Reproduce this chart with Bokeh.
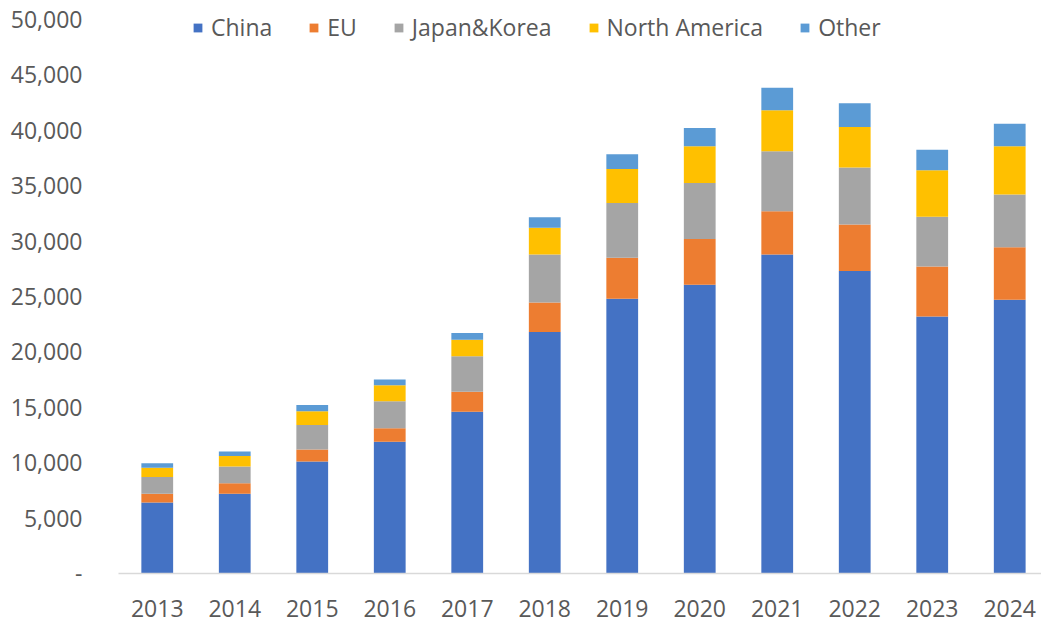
from bokeh.plotting import figure
from bokeh.models import ColumnDataSource, Legend, LegendItem, FixedTicker, CustomJSTickFormatter
from bokeh.embed import file_html
from bokeh.resources import INLINE

years = [2013, 2014, 2015, 2016, 2017, 2018, 2019, 2020, 2021, 2022, 2023, 2024]
series = ["China", "EU", "Japan&Korea", "North America", "Other"]
china = [6400, 7200, 10100, 11900, 14600, 21800, 24800, 26050, 28800, 27300, 23200, 24700]
eu = [800, 950, 1100, 1200, 1800, 2650, 3700, 4150, 3900, 4200, 4500, 4750]
japan_korea = [1500, 1500, 2200, 2450, 3200, 4350, 4950, 5050, 5400, 5150, 4500, 4750]
north_america = [850, 950, 1250, 1450, 1500, 2400, 3050, 3300, 3700, 3650, 4200, 4350]
other = [400, 400, 550, 500, 600, 950, 1350, 1650, 2050, 2150, 1850, 2050]
y_ticks = [0, 5000, 10000, 15000, 20000, 25000, 30000, 35000, 40000, 45000, 50000]
colors = ["#4472C4", "#ED7D31", "#A5A5A5", "#FFC000", "#5B9BD5"]

data = {"year": years, "China": china, "EU": eu, "Japan&Korea": japan_korea,
        "North America": north_america, "Other": other}
src = ColumnDataSource(data)

FONT = "Open Sans"
TXT = "#595959"

# frame spans y=5..573 px; 50,000 sits at y=19 px
p = figure(width=1041, height=622, output_backend="svg", toolbar_location=None,
           x_range=(2012.5, 2024.41), y_range=(0, 51264),
           min_border_left=118, min_border_right=0, min_border_top=5, min_border_bottom=49)

renderers = p.vbar_stack(series, x="year", width=0.41, source=src, color=colors, line_color=None)

p.xgrid.visible = False
p.ygrid.visible = False
p.outline_line_color = None

p.xaxis.ticker = FixedTicker(ticks=years)
p.xaxis.major_tick_line_color = None
p.xaxis.minor_tick_line_color = None
p.xaxis.axis_line_color = "#D9D9D9"
p.xaxis.axis_line_width = 1.5
p.xaxis.major_label_standoff = 20
p.xaxis.major_label_text_font = FONT
p.xaxis.major_label_text_font_size = "23px"
p.xaxis.major_label_text_color = TXT

p.yaxis.ticker = FixedTicker(ticks=y_ticks)
p.yaxis.formatter = CustomJSTickFormatter(code="return tick == 0 ? '-' : tick.toLocaleString('en-US');")
p.yaxis.axis_line_color = None
p.yaxis.major_tick_line_color = None
p.yaxis.minor_tick_line_color = None
p.yaxis.major_label_standoff = 30
p.yaxis.major_label_text_font = FONT
p.yaxis.major_label_text_font_size = "23px"
p.yaxis.major_label_text_color = TXT

items = [LegendItem(label=s, renderers=[r]) for s, r in zip(series, renderers)]
legend = Legend(items=items, orientation="horizontal", location=(74, 530),
                glyph_width=11, glyph_height=11, label_standoff=8, spacing=36,
                padding=0, margin=0, border_line_color=None, background_fill_alpha=0,
                label_text_font=FONT, label_text_font_size="23px", label_text_color=TXT)
p.add_layout(legend, "center")

open("out.html", "w").write(file_html(p, INLINE))
